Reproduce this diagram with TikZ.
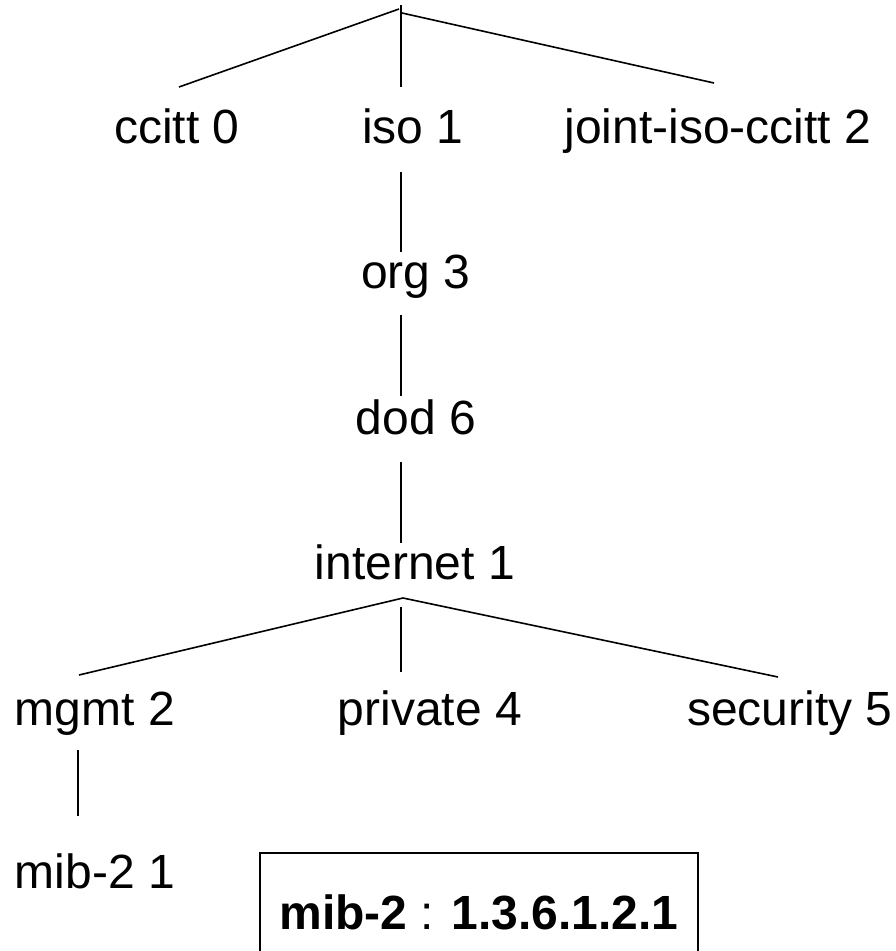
\documentclass[tikz,border=0pt]{standalone}
\usepackage{fontspec}
\setmainfont{Liberation Sans}
\begin{document}
\begin{tikzpicture}[x=1pt,y=-1pt,
  label/.style={anchor=base,inner sep=0pt,font=\fontsize{48}{56}\selectfont},
  branch/.style={line width=1.6pt,line cap=butt},
  oidbox/.style={draw,line width=1.6pt,minimum width=438pt,minimum height=118pt,
    inner sep=0pt,font=\fontsize{48}{56}\selectfont}]
\clip (0,0) rectangle (896,951);
\useasboundingbox (0,0) rectangle (896,951);

% tree labels
\node[label] (ccitt)    at (177,143) {ccitt 0};
\node[label] (iso)      at (413,143) {iso 1};
\node[label] (joint)    at (718,143) {joint-iso-ccitt 2};
\node[label] (org)      at (416,288) {org 3};
\node[label] (dod)      at (416,434) {dod 6};
\node[label] (internet) at (415,579) {internet 1};
\node[label] (mgmt)     at (95,725)  {mgmt 2};
\node[label] (private)  at (430,725) {private 4};
\node[label] (security) at (790,725) {security 5};
\node[label] (mib)      at (95,888)  {mib-2 1};

% result box
\node[oidbox] (oid) at (479,912) {\textbf{mib-2} : \textbf{1.3.6.1.2.1}};

% junction and stub coordinates
\coordinate (rootTop)   at (401,5);
\coordinate (rootL)     at (399,9);
\coordinate (rootR)     at (402,13);
\coordinate (ccittEnd)  at (179,87);
\coordinate (isoEnd)    at (401,87);
\coordinate (jointEnd)  at (714,83);
\coordinate (isoLow)    at (401,172);
\coordinate (orgHigh)   at (401,252);
\coordinate (orgLow)    at (401,315);
\coordinate (dodHigh)   at (401,396);
\coordinate (dodLow)    at (401,462);
\coordinate (netHigh)   at (401,543);
\coordinate (netApex)   at (403,598);
\coordinate (netMid)    at (401,607);
\coordinate (mgmtEnd)   at (79,675);
\coordinate (privEnd)   at (401,672);
\coordinate (secEnd)    at (778,677);
\coordinate (mgmtLow)   at (78,750);
\coordinate (mibHigh)   at (78,816);

% root fan-out
\draw[branch] (rootL) -- (ccittEnd);
\draw[branch] (rootTop) -- (isoEnd);
\draw[branch] (rootR) -- (jointEnd);
% single-child chain
\draw[branch] (isoLow) -- (orgHigh);
\draw[branch] (orgLow) -- (dodHigh);
\draw[branch] (dodLow) -- (netHigh);
% internet fan-out
\draw[branch] (netApex) -- (mgmtEnd);
\draw[branch] (netMid) -- (privEnd);
\draw[branch] (netApex) -- (secEnd);
% mgmt to mib-2
\draw[branch] (mgmtLow) -- (mibHigh);
\end{tikzpicture}
\end{document}
